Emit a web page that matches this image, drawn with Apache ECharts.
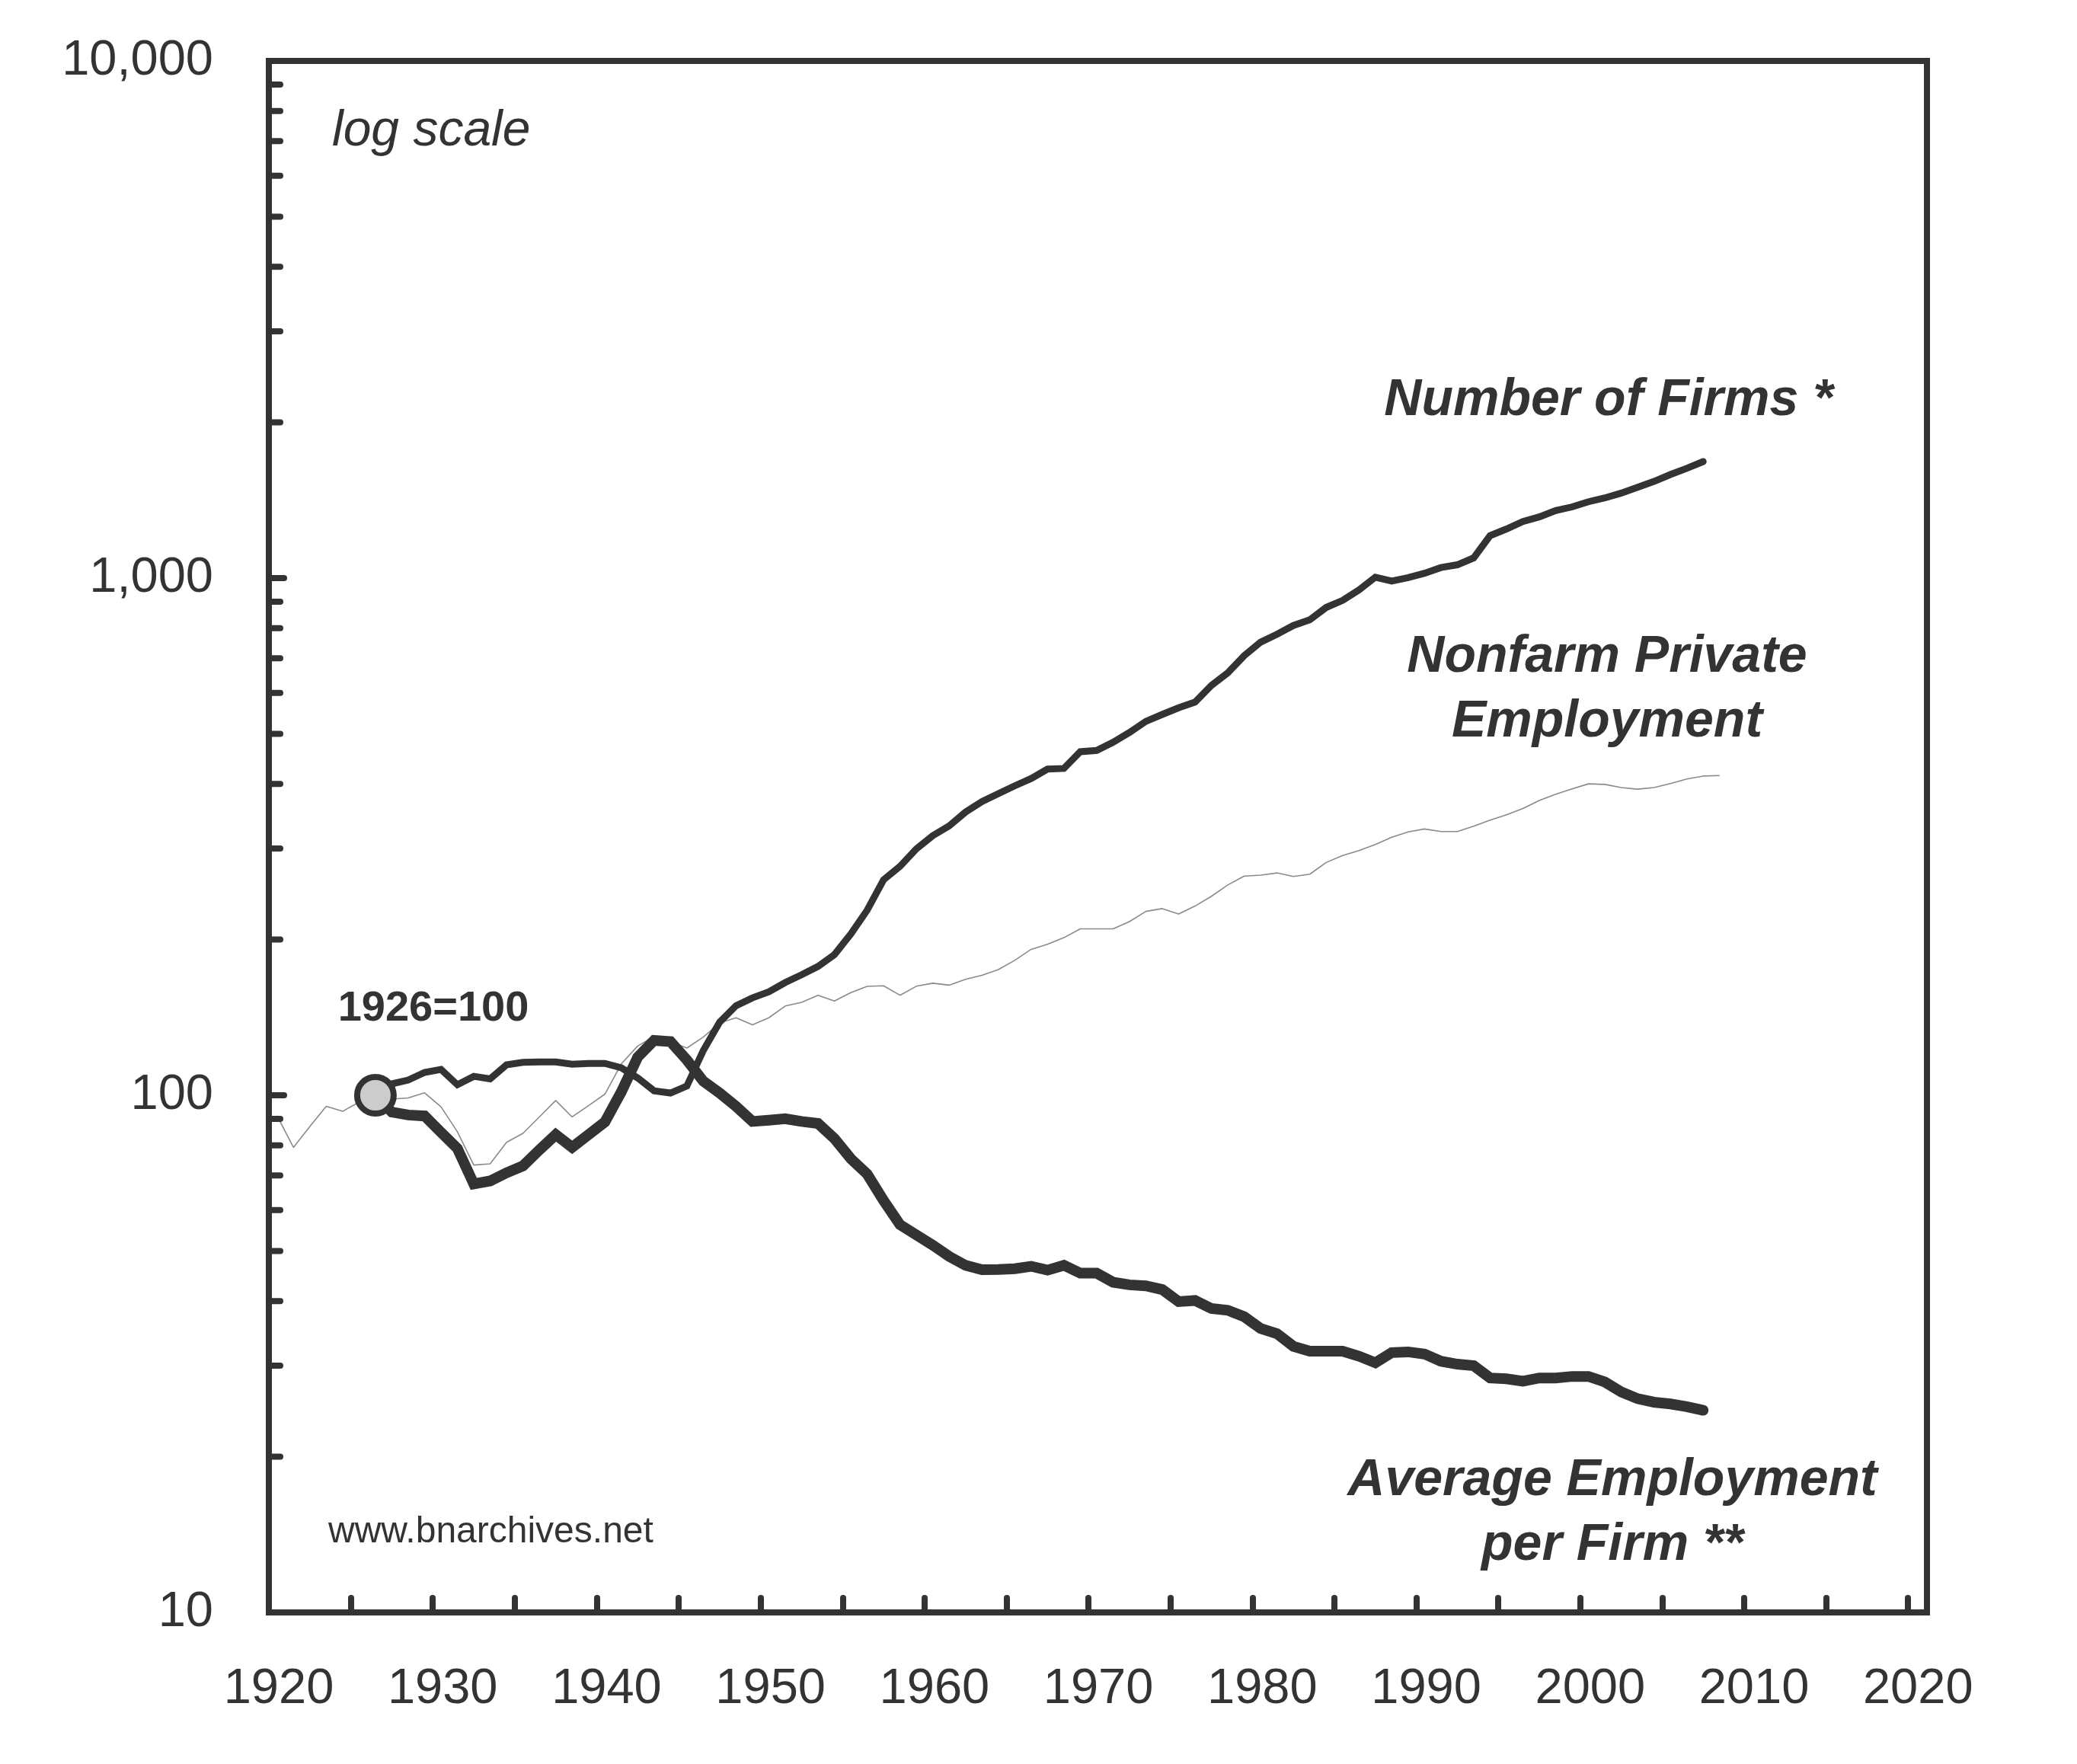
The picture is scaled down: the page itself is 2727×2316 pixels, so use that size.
<!DOCTYPE html>
<html>
<head>
<meta charset="utf-8">
<title>Number of Firms, Employment and Average Employment per Firm</title>
<script src="https://cdn.jsdelivr.net/npm/echarts@6.0.0/dist/echarts.min.js"></script>
<style>
html, body { margin: 0; padding: 0; background: #fff; }
#chart { width: 2727px; height: 2316px; }
</style>
</head>
<body>
<div id="chart"></div>
<script>
// index, 1926 = 100, log scale
var empStart = 1920;   // nonfarm private employment, 1920-2008
var firmStart = 1926;  // number of firms and average employment per firm, 1926-2007

var employment = [
  91.3, 79.3, 87, 95.2, 93.1, 97, 100, 98.3, 98.8, 101.1,
  95, 85, 73.3, 73.7, 81.1, 84.4, 90.8, 97.7, 90.8, 95.5,
  100.5, 115, 124.5, 130, 127, 123.4, 129.6, 138, 141.2, 136.8,
  141.2, 148.8, 151.2, 156.1, 152.1, 157.9, 162.4, 162.8, 156.1, 162.5,
  164.7, 163.3, 167.6, 170.6, 175, 182.3, 191.5, 195.8, 201.7, 209.8,
  209.8, 209.8, 216.7, 226.7, 229.6, 224.2, 232.2, 242.5, 255.1, 265.3,
  266.4, 269.1, 264.9, 267.6, 281.9, 290.7, 297.3, 305.4, 315.4, 323,
  327.3, 323.5, 323.5, 331.3, 340.4, 348.6, 358.6, 371.6, 381.9, 391.1,
  400.1, 399.1, 393.5, 390.7, 393.5, 400.6, 408.9, 414.2, 415.2
];

var firms = [
  100, 105.2, 107, 110.7,
  112.2, 104.8, 108.8, 107.6, 114.5, 115.8, 116, 116, 114.8, 115.2,
  115.2, 113, 108, 102, 101, 104.2, 122, 138.5, 149, 154.3,
  158.5, 165.2, 171, 177.5, 187, 205, 228, 261, 277, 299.5,
  317.6, 331.8, 352.8, 369.6, 383, 396.6, 409.7, 427.3, 428.5, 461.6,
  464.3, 481.5, 503, 528.4, 545, 561.3, 575.7, 620.2, 656, 707.9,
  751.9, 778.6, 809.8, 830.6, 877.5, 905.2, 948.4, 1004, 987, 1002,
  1021.6, 1048, 1061, 1094, 1208, 1244.5, 1286.5, 1313, 1351, 1373,
  1405, 1429, 1460, 1498, 1538, 1586, 1630, 1680
];

var avgPerFirm = [
  100, 92.8, 91.6, 91.2,
  84.8, 78.9, 67.4, 68.3, 70.8, 73.0, 78.4, 83.9, 79.3, 83.9,
  88.8, 101.5, 118.5, 127.7, 127, 117, 106.5, 101, 95.2, 89,
  89.5, 90.1, 89, 88.2, 82.5, 75.4, 70.4, 62.6, 56.2, 53.7,
  51.3, 48.8, 46.9, 46.0, 46.05, 46.2, 46.7, 45.9, 46.9, 45.3,
  45.3, 43.5, 43.0, 42.8, 42.1, 39.9, 40.1, 38.7, 38.4, 37.3,
  35.4, 34.6, 32.7, 32.0, 32.0, 32.0, 31.3, 30.4, 31.8, 31.9,
  31.6, 30.6, 30.2, 30.0, 28.4, 28.3, 28.0, 28.4, 28.4, 28.6,
  28.6, 27.9, 26.7, 25.9, 25.5, 25.3, 25.0, 24.6
];

var baseYear = 1926, baseValue = 100;
var xMin = 1920, xMax = 2021.15;
var yMin = 10, yMax = 10000;
var minorTicks = [20, 30, 40, 50, 60, 70, 80, 90,
                  200, 300, 400, 500, 600, 700, 800, 900,
                  2000, 3000, 4000, 5000, 6000, 7000, 8000, 9000];

// annual values sit at mid-year on the time axis
function toPoints(start, vals) {
  return vals.map(function (v, i) { return [start + i + 0.5, v]; });
}

var FONT = '"Liberation Sans", Arial, Helvetica, sans-serif';
var INK = '#333';

function label(txt, x, y, font, align) {
  return {
    type: 'text', x: x, y: y, silent: true, z: 100,
    style: {
      text: txt, font: font, fill: INK,
      align: align, textAlign: align,
      verticalAlign: 'middle', textVerticalAlign: 'middle'
    }
  };
}

var chart = echarts.init(document.getElementById('chart'));
chart.setOption({
  animation: false,
  backgroundColor: '#fff',
  grid: {
    left: 353, top: 80, right: 197, bottom: 199,
    outerBoundsMode: 'none', containLabel: false,
    show: true, borderColor: INK, borderWidth: 8
  },
  xAxis: {
    type: 'value', min: xMin, max: xMax, interval: 5,
    axisLine: { show: true, onZero: false, lineStyle: { color: INK, width: 8 } },
    axisTick: { show: true, inside: true, length: 19, lineStyle: { color: INK, width: 8, cap: 'round' } },
    axisLabel: {
      margin: 101, verticalAlign: 'middle', fontSize: 65, fontFamily: FONT, color: INK,
      padding: [0, 0, 0, 26],
      formatter: function (v) { return (Math.abs(v % 10) < 1e-6) ? String(Math.round(v)) : ''; }
    },
    splitLine: { show: false }
  },
  yAxis: {
    type: 'log', logBase: 10, min: yMin, max: yMax, splitNumber: 3,
    axisLine: { show: true, lineStyle: { color: INK, width: 8 } },
    axisTick: { show: true, inside: true, length: 20, lineStyle: { color: INK, width: 8, cap: 'round' } },
    axisLabel: {
      margin: 73, fontSize: 65, fontFamily: FONT, color: INK,
      padding: [8, 0, 0, 0],
      formatter: function (v) { return Math.round(v).toLocaleString('en-US'); }
    },
    splitLine: { show: false }
  },
  series: [
    {
      name: 'Nonfarm Private Employment', type: 'line',
      data: toPoints(empStart, employment),
      showSymbol: false, z: 2,
      lineStyle: { color: '#8a8a8a', width: 1.6 }
    },
    {
      name: 'Number of Firms', type: 'line',
      data: toPoints(firmStart, firms),
      showSymbol: false, z: 3,
      lineStyle: { color: INK, width: 9, cap: 'round', join: 'miter' }
    },
    {
      name: 'Average Employment per Firm', type: 'line',
      data: toPoints(firmStart, avgPerFirm),
      showSymbol: false, z: 4,
      lineStyle: { color: INK, width: 14, cap: 'round', join: 'miter' }
    },
    {
      name: 'base', type: 'scatter', z: 6,
      data: [[baseYear + 0.5, baseValue]],
      symbol: 'circle', symbolSize: 48,
      itemStyle: { color: '#cccccc', borderColor: INK, borderWidth: 8, opacity: 1 }
    },
    {
      name: 'minor ticks', type: 'custom', z: 5, silent: true,
      data: minorTicks.map(function (v) { return [xMin, v]; }),
      renderItem: function (params, api) {
        var p = api.coord([api.value(0), api.value(1)]);
        return {
          type: 'line',
          shape: { x1: p[0], y1: p[1], x2: p[0] + 15, y2: p[1] },
          style: { stroke: INK, lineWidth: 8, lineCap: 'round' }
        };
      }
    }
  ],
  graphic: [
    label('log scale', 436, 173, 'italic 66px ' + FONT, 'left'),
    label('1926=100', 569, 1325, 'bold 56px ' + FONT, 'center'),
    label('Number of Firms *', 2112, 526, 'italic bold 68px ' + FONT, 'center'),
    label('Nonfarm Private', 2110, 863, 'italic bold 68px ' + FONT, 'center'),
    label('Employment', 2110, 948, 'italic bold 68px ' + FONT, 'center'),
    label('Average Employment', 2117, 1944, 'italic bold 68px ' + FONT, 'center'),
    label('per Firm **', 2117, 2029, 'italic bold 68px ' + FONT, 'center'),
    label('www.bnarchives.net', 431, 2012, '48px ' + FONT, 'left')
  ]
});
</script>
</body>
</html>
